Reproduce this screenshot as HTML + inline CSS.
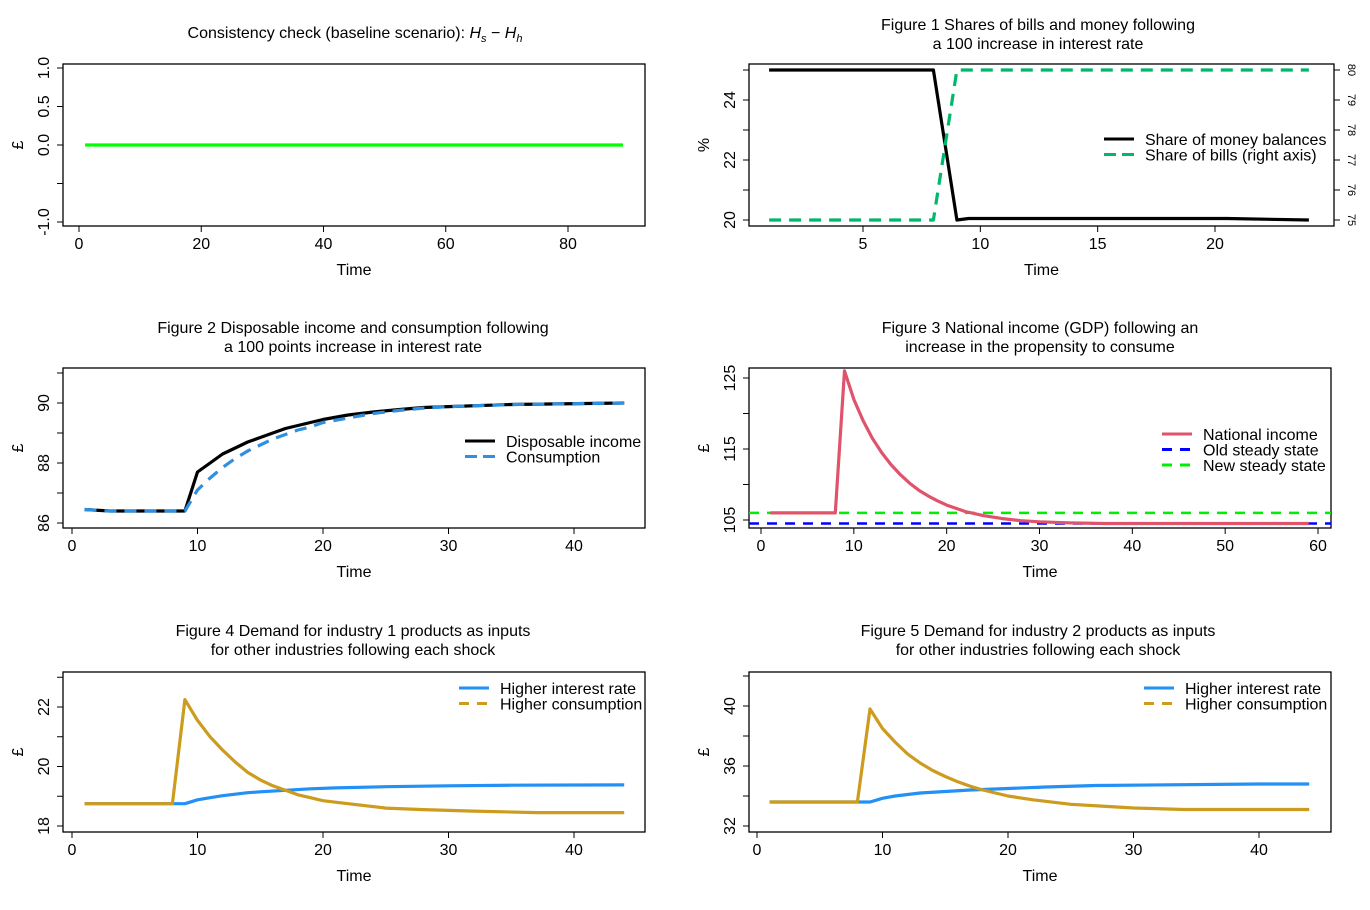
<!DOCTYPE html>
<html><head><meta charset="utf-8"><style>
html,body{margin:0;padding:0;background:#fff;}
svg{display:block;font-family:"Liberation Sans",sans-serif;}
text{font-size:16px;fill:#000;}
</style></head><body>
<svg id="root" width="1370" height="910" viewBox="0 0 1370 910"></svg>
<script>
// ---- data ----
const p1T = [1, 89];
const p1Diff = [0, 0];

const p2T = [1, 8, 9, 9.5, 20.5, 24];
const p2Money = [25, 25, 20, 20.05, 20.05, 20];
const p2BillsT = [1, 8, 9, 24];
const p2Bills = [75, 75, 80, 80];

const p3T = [1, 3, 9, 10, 11, 12, 13, 14, 15, 16, 17, 18, 19, 20, 22, 24, 26, 28, 30, 35, 44];
const p3Disp = [86.45, 86.4, 86.4, 87.7, 88.0, 88.3, 88.5, 88.7, 88.85, 89.0, 89.15, 89.25, 89.35, 89.45, 89.6, 89.7, 89.78, 89.85, 89.88, 89.95, 90.0];
const p3Cons = [86.45, 86.4, 86.4, 87.1, 87.5, 87.85, 88.15, 88.4, 88.6, 88.8, 88.95, 89.1, 89.2, 89.35, 89.5, 89.65, 89.75, 89.83, 89.88, 89.95, 90.0];

const p4T = [1, 8, 9, 10, 11, 12, 13, 14, 15, 16, 17, 18, 19, 20, 22, 24, 26, 28, 30, 33, 37, 59];
const p4Y = [106, 106, 126, 122, 119, 116.5, 114.5, 112.8, 111.4, 110.2, 109.2, 108.4, 107.7, 107.1, 106.2, 105.6, 105.2, 104.9, 104.75, 104.6, 104.5, 104.5];
const p4Old = 104.5;
const p4New = 106.0;

const p5T = [1, 8, 9, 10, 11, 12, 13, 14, 15, 16, 17, 18, 19, 20, 22, 25, 28, 32, 37, 44];
const p5Cons = [18.75, 18.75, 22.25, 21.55, 21.0, 20.55, 20.15, 19.8, 19.55, 19.35, 19.2, 19.05, 18.95, 18.85, 18.75, 18.6, 18.55, 18.5, 18.45, 18.45];
const p5IT = [1, 9, 10, 11, 12, 13, 14, 15, 17, 19, 21, 25, 30, 35, 44];
const p5Int = [18.75, 18.75, 18.88, 18.95, 19.02, 19.07, 19.12, 19.15, 19.2, 19.25, 19.28, 19.32, 19.35, 19.37, 19.38];

const p6T = [1, 8, 9, 10, 11, 12, 13, 14, 15, 16, 17, 18, 19, 20, 22, 25, 28, 30, 34, 44];
const p6Cons = [33.6, 33.6, 39.8, 38.5, 37.6, 36.8, 36.2, 35.7, 35.3, 34.95, 34.65, 34.4, 34.2, 34.0, 33.75, 33.45, 33.3, 33.2, 33.1, 33.1];
const p6IT = [1, 9, 10, 11, 12, 13, 15, 17, 20, 23, 27, 40, 44];
const p6Int = [33.6, 33.6, 33.85, 34.0, 34.1, 34.2, 34.3, 34.4, 34.5, 34.6, 34.7, 34.8, 34.8];

const ticks1X = [0, 20, 40, 60, 80];
const ticks2X = [5, 10, 15, 20];
const ticks3X = [0, 10, 20, 30, 40];
const ticks4X = [0, 10, 20, 30, 40, 50, 60];

const NS = "http://www.w3.org/2000/svg";
const root = document.getElementById('root');
function mk(tag, attrs, parent) {
  const e = document.createElementNS(NS, tag);
  for (const k in attrs) e.setAttribute(k, attrs[k]);
  (parent || root).appendChild(e);
  return e;
}
function scale(d0, d1, r0, r1) { return v => r0 + (v - d0) * (r1 - r0) / (d1 - d0); }

function panel(name, box, xs, ys, xticks, yticks, ylabels, ylab, titles, titleCx, titleY) {
  const g = mk('g', {});
  
  
  const r = mk('rect', {x: box.x0, y: box.y0, width: box.x1 - box.x0, height: box.y1 - box.y0, fill: 'none', stroke: '#000', 'stroke-width': 1.3}, g);
  
  
  const xa = mk('g', {}, g);
  
  
  const ay = box.y1;
  xticks.forEach(t => {
    mk('line', {x1: xs(t), x2: xs(t), y1: ay, y2: ay + 6, stroke: '#000'}, xa);
    const tx = mk('text', {x: xs(t), y: ay + 23, 'text-anchor': 'middle'}, xa);
    tx.textContent = t;
    
    
  });
  const xt = mk('text', {x: (box.x0 + box.x1) / 2, y: box.y1 + 49, 'text-anchor': 'middle'}, g);
  xt.textContent = 'Time';
  
  
  const ya = mk('g', {}, g);
  
  
  const ax = box.x0;
  yticks.forEach((t, i) => {
    mk('line', {x1: ax - 6, x2: ax, y1: ys(t), y2: ys(t), stroke: '#000'}, ya);
    if (ylabels[i] !== '') {
      const lx = ax - 14;
      const tx = mk('text', {x: lx, y: ys(t), 'text-anchor': 'middle', transform: 'rotate(-90 ' + lx + ' ' + ys(t) + ')'}, ya);
      tx.textContent = ylabels[i];
      
      
    }
  });
  const yc = (box.y0 + box.y1) / 2;
  const tx0 = box.x0 - 40;
  const yt = mk('text', {x: tx0, y: yc, 'text-anchor': 'middle', transform: 'rotate(-90 ' + tx0 + ' ' + yc + ')'}, g);
  yt.textContent = ylab;
  
  
  titles.forEach((s, i) => {
    const tt = mk('text', {x: titleCx, y: titleY + i * 19, 'text-anchor': 'middle', 'xml:space': 'preserve'}, g);
    tt.textContent = s;
    
    
  });
  const clip = mk('clipPath', {id: 'c' + name}, g);
  mk('rect', {x: box.x0, y: box.y0, width: box.x1 - box.x0, height: box.y1 - box.y0}, clip);
  const plot = mk('g', {'clip-path': 'url(#c' + name + ')'}, g);
  return {g, plot};
}
function series(parent, xs, ys, T, Y, color, dash, name) {
  const d = T.map((t, i) => (i ? 'L' : 'M') + xs(t).toFixed(1) + ',' + ys(Y[i]).toFixed(1)).join('');
  const p = mk('path', {d, fill: 'none', stroke: color, 'stroke-width': 3.2, 'stroke-dasharray': dash || 'none', 'stroke-linejoin': 'round'}, parent);
  
  
}
function hline(parent, x0, x1, y, color, name) {
  const l = mk('line', {x1: x0, x2: x1, y1: y, y2: y, stroke: color, 'stroke-width': 2.5, 'stroke-dasharray': '10 8'}, parent);
  
  
}
function legend(parent, x, y0, items) {
  const lg = mk('g', {}, parent);
  
  
  items.forEach((it, i) => {
    const y = y0 + i * 15.5;
    const l = mk('line', {x1: x, x2: x + 30, y1: y, y2: y, stroke: it[1], 'stroke-width': 3, 'stroke-dasharray': it[2] || 'none'}, lg);
    
    
    const t = mk('text', {x: x + 41, y: y + 6}, lg);
    t.textContent = it[0];
    
    
  });
}

// Panel 1
{
  const box = {x0: 63, x1: 645, y0: 64, y1: 226};
  const xs = scale(0, 80, 79, 568), ys = scale(0, 1, 145, 68);
  const P = panel('consistency-check-panel', box, xs, ys, ticks1X, [-1, -0.5, 0, 0.5, 1], ['-1.0', '', '0.0', '0.5', '1.0'], '£', [], 355, 38);
  const tt = mk('text', {x: 355, y: 38, 'text-anchor': 'middle'}, P.g);
  tt.innerHTML = 'Consistency check (baseline scenario): <tspan font-style="italic">H</tspan><tspan font-style="italic" font-size="11" dy="4">s</tspan><tspan dy="-4"> − </tspan><tspan font-style="italic">H</tspan><tspan font-style="italic" font-size="11" dy="4">h</tspan>';
  
  
  series(P.plot, xs, ys, p1T, p1Diff, '#00ff00', null, 'consistency-line');
}
// Panel 2
{
  const box = {x0: 749, x1: 1334, y0: 64, y1: 226};
  const xs = scale(5, 20, 863, 1215), ys = scale(20, 24, 220, 100), ys2 = scale(75, 80, 220, 70);
  const P = panel('figure-1-panel', box, xs, ys, ticks2X, [20, 21, 22, 23, 24, 25], ['20', '', '22', '', '24', ''], '%', ['Figure 1  Shares of bills and money following', 'a 100 increase in interest rate'], 1038, 30);
  series(P.plot, xs, ys, p2T, p2Money, '#000', null, 'money-share-line');
  series(P.plot, xs, ys2, p2BillsT, p2Bills, '#00b86b', '12 8', 'bills-share-line');
  const ra = mk('g', {}, P.g);
  
  
  const rx = box.x1;
  [75, 76, 77, 78, 79, 80].forEach(v => {
    mk('line', {x1: rx, x2: rx + 6, y1: ys2(v), y2: ys2(v), stroke: '#000'}, ra);
    const t = mk('text', {x: rx + 14, y: ys2(v), 'text-anchor': 'middle', style: 'font-size:11px', transform: 'rotate(90 ' + (rx + 14) + ' ' + ys2(v) + ')'}, ra);
    t.textContent = v;
    
    
  });
  legend(P.g, 1104, 139, [['Share of money balances', '#000'], ['Share of bills (right axis)', '#00b86b', '12 6']]);
}
// Panel 3
{
  const box = {x0: 63, x1: 645, y0: 368, y1: 528};
  const xs = scale(0, 40, 72, 574), ys = scale(86, 90, 523, 403);
  const P = panel('figure-2-panel', box, xs, ys, ticks3X, [86, 87, 88, 89, 90, 91], ['86', '', '88', '', '90', ''], '£', ['Figure 2  Disposable income and consumption following', 'a 100 points increase in interest rate'], 353, 333);
  series(P.plot, xs, ys, p3T, p3Disp, '#000', null, 'disposable-income-line');
  series(P.plot, xs, ys, p3T, p3Cons, '#2f8fe0', '12 8', 'consumption-line');
  legend(P.g, 465, 441, [['Disposable income', '#000'], ['Consumption', '#2f8fe0', '12 6']]);
}
// Panel 4
{
  const box = {x0: 749, x1: 1331, y0: 368, y1: 528};
  const xs = scale(0, 60, 761, 1318), ys = scale(105, 125, 520, 378);
  const P = panel('figure-3-panel', box, xs, ys, ticks4X, [105, 110, 115, 120, 125], ['105', '', '115', '', '125'], '£', ['Figure 3  National income (GDP) following an', 'increase in the propensity to consume'], 1040, 333);
  hline(P.plot, box.x0, box.x1, ys(p4Old), '#0000ff', 'old-steady-state-line');
  hline(P.plot, box.x0, box.x1, ys(p4New), '#00ee00', 'new-steady-state-line');
  series(P.plot, xs, ys, p4T, p4Y, '#df536b', null, 'national-income-line');
  legend(P.g, 1162, 434, [['National income', '#df536b'], ['Old steady state', '#0000ff', '10 8'], ['New steady state', '#00ee00', '10 8']]);
}
// Panel 5
{
  const box = {x0: 63, x1: 645, y0: 672, y1: 832};
  const xs = scale(0, 40, 72, 574), ys = scale(18, 22, 826, 707);
  const P = panel('figure-4-panel', box, xs, ys, ticks3X, [18, 19, 20, 21, 22, 23], ['18', '', '20', '', '22', ''], '£', ['Figure 4  Demand for industry 1 products as inputs', 'for other industries following each shock'], 353, 636);
  series(P.plot, xs, ys, p5IT, p5Int, '#2390f5', null, 'higher-interest-rate-line');
  series(P.plot, xs, ys, p5T, p5Cons, '#cd9b1d', null, 'higher-consumption-line');
  legend(P.g, 459, 688, [['Higher interest rate', '#2390f5'], ['Higher consumption', '#cd9b1d', '10 8']]);
}
// Panel 6
{
  const box = {x0: 749, x1: 1331, y0: 672, y1: 832};
  const xs = scale(0, 40, 757, 1259), ys = scale(32, 40, 826, 706);
  const P = panel('figure-5-panel', box, xs, ys, ticks3X, [32, 34, 36, 38, 40, 42], ['32', '', '36', '', '40', ''], '£', ['Figure 5  Demand for industry 2 products as inputs', 'for other industries following each shock'], 1038, 636);
  series(P.plot, xs, ys, p6IT, p6Int, '#2390f5', null, 'higher-interest-rate-line');
  series(P.plot, xs, ys, p6T, p6Cons, '#cd9b1d', null, 'higher-consumption-line');
  legend(P.g, 1144, 688, [['Higher interest rate', '#2390f5'], ['Higher consumption', '#cd9b1d', '10 8']]);
}
</script>
</body></html>
